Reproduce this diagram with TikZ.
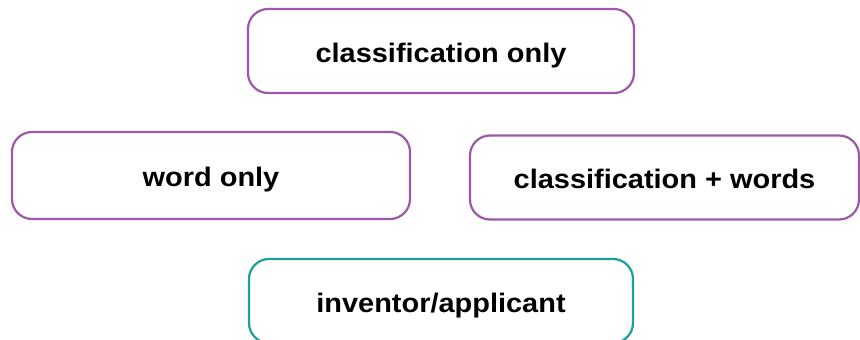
\documentclass[tikz,border=0pt]{standalone}
\usepackage{fontspec}
\setmainfont{Liberation Sans}[FakeStretch=1.08]
\definecolor{boxpurple}{HTML}{9B59A8}
\definecolor{boxteal}{HTML}{1AA09B}
\tikzset{
  card/.style={draw, line width=2.2pt, rounded corners=20pt, fill=white,
    font=\fontsize{26.8}{30}\selectfont\bfseries, text=black,
    text height=24pt, text depth=2pt, inner sep=0pt},
  cardp/.style={card, draw=boxpurple},
  cardt/.style={card, draw=boxteal}
}
\begin{document}
\begin{tikzpicture}[x=1pt,y=-1pt]
\useasboundingbox (0,0) rectangle (860,340);
\clip (0,0) rectangle (860,340);
\node[cardp, minimum width=386pt, minimum height=84pt] (c1) at (441,51) {classification only};
\node[cardp, minimum width=398pt, minimum height=87pt] (c2) at (211,175.5) {word only};
\node[cardp, minimum width=389pt, minimum height=84pt] (c3) at (664.5,177.5) {classification + words};
\node[cardt, minimum width=384pt, minimum height=84pt] (c4) at (441,301) {inventor/applicant};
\end{tikzpicture}
\end{document}
